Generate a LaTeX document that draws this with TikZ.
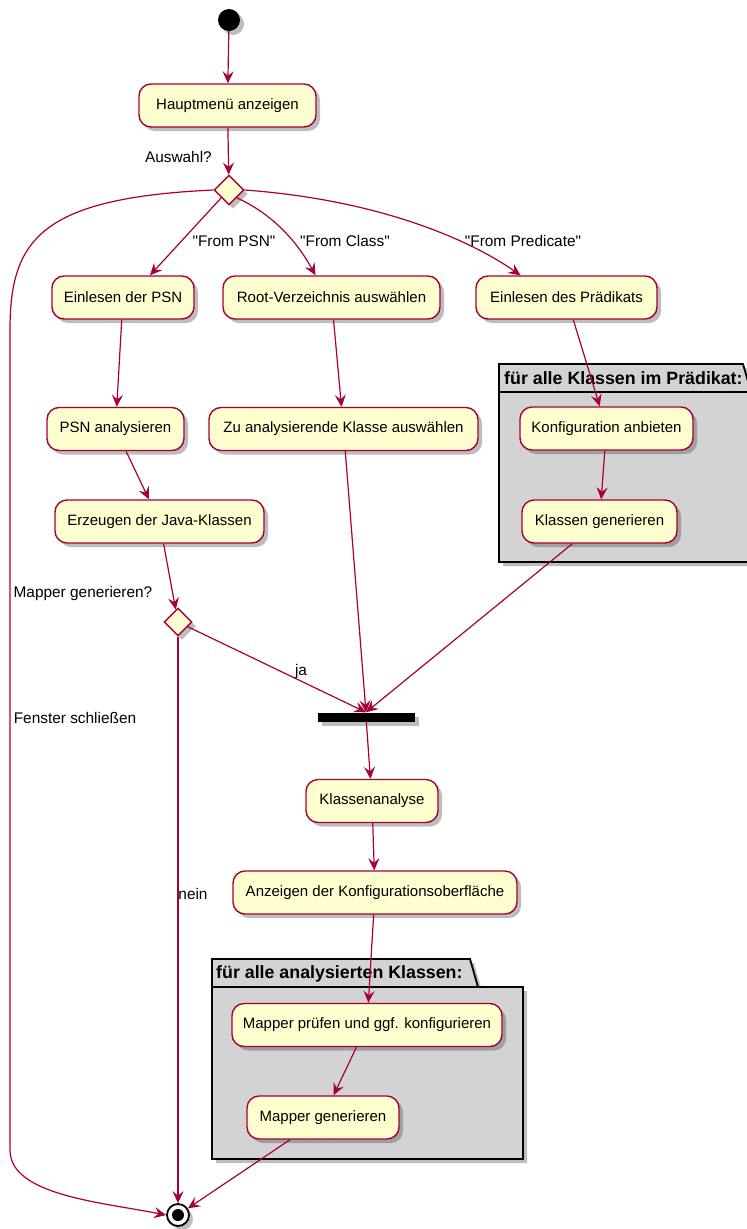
\documentclass[tikz,border=0pt]{standalone}
\usepackage{fontspec}
\setmainfont{Liberation Sans}[Ligatures=TeXOff]
\usetikzlibrary{shapes.geometric,arrows.meta,shadows,calc}

\definecolor{actfill}{HTML}{FEFECE}
\definecolor{actline}{HTML}{A80036}
\definecolor{pkgfill}{HTML}{D3D3D3}

\begin{document}
\begin{tikzpicture}[x=1pt,y=-1pt,
  shade box/.style={drop shadow={shadow xshift=4pt,shadow yshift=-4pt,opacity=0.32,fill=black!80}},
  action/.style={draw=actline, fill=actfill, line width=1.4pt, rounded corners=12pt,
    minimum height=43pt, inner sep=0pt, font=\fontsize{15}{18}\selectfont, shade box},
  choice/.style={diamond, draw=actline, fill=actfill, line width=1.4pt,
    minimum width=30pt, minimum height=30pt, inner sep=0pt, shade box},
  flow/.style={draw=actline, line width=1.2pt, -{Stealth[length=12pt,width=11pt,inset=4.5pt]}},
  lbl/.style={font=\fontsize{15.4}{18}\selectfont, inner sep=0pt},
  pkg/.style={draw=black, fill=pkgfill, line width=1.8pt, shade box},
  pkgtitle/.style={font=\bfseries\fontsize{17.8}{21}\selectfont, anchor=west, inner sep=0pt},
]
\useasboundingbox (0,0) rectangle (747,1229);
\clip (0,0) rectangle (747,1229);
\fill[white] (0,0) rectangle (747,1229);

% loop packages
\path[pkg] (499,562) -- (499,364) -- (743,364) -- (751,392) -- (760,392) -- (760,562) -- cycle;
\draw[black, line width=1.8pt] (499,392) -- (751,392);
\node[pkgtitle] (p1title) at (504,378) {für alle Klassen im Prädikat:};

\path[pkg] (212,1159) -- (212,959) -- (470,959) -- (478,987) -- (523,987) -- (523,1159) -- cycle;
\draw[black, line width=1.8pt] (212,987) -- (478,987);
\node[pkgtitle] (p2title) at (216,974) {für alle analysierten Klassen:};

% start / end
\node[circle, fill=black, minimum size=22pt, inner sep=0pt, shade box] (start) at (229,20) {};
\node[circle, draw=black, fill=white, line width=1.8pt, minimum size=22pt, inner sep=0pt, shade box] (end) at (178,1215) {};
\node[circle, fill=black, minimum size=12pt, inner sep=0pt] (endcore) at (end) {};

% actions
\node[action, minimum width=177pt] (menu) at (227.5,105.5) {Hauptmenü anzeigen};
\node[choice] (sel) at (229,190) {};

\node[action, minimum width=142pt] (psnin) at (123,297.5) {Einlesen der PSN};
\node[action, minimum width=217pt] (root) at (331.5,297.5) {Root-Verzeichnis auswählen};
\node[action, minimum width=181pt] (predin) at (566.5,297.5) {Einlesen des Prädikats};

\node[action, minimum width=137pt] (psnana) at (115.5,429) {PSN analysieren};
\node[action, minimum width=269pt] (clsel) at (343.5,429) {Zu analysierende Klasse auswählen};
\node[action, minimum width=173pt] (cfg) at (606.5,428.5) {Konfiguration anbieten};

\node[action, minimum width=209pt] (java) at (159.5,521.5) {Erzeugen der Java-Klassen};
\node[action, minimum width=155pt] (gen) at (599.5,521.5) {Klassen generieren};

\node[choice, minimum width=28pt, minimum height=28pt] (mapq) at (178,622) {};

\node[fill=black, minimum width=97pt, minimum height=9pt, inner sep=0pt, shade box] (bar) at (366,717) {};

\node[action, minimum width=132pt] (ana) at (372,801) {Klassenanalyse};
\node[action, minimum width=284pt] (ui) at (375,892.5) {Anzeigen der Konfigurationsoberfläche};
\node[action, minimum width=270pt] (check) at (367,1025) {Mapper prüfen und ggf. konfigurieren};
\node[action, minimum width=152pt] (mapgen) at (323,1117.5) {Mapper generieren};

% labels
\node[lbl, anchor=east] (selq) at (212,157) {Auswahl?};
\node[lbl] (lpsn) at (234,241) {"From PSN"};
\node[lbl] (lclass) at (345,241) {"From Class"};
\node[lbl] (lpred) at (523,241) {"From Predicate"};
\node[lbl] (mapqq) at (83,594) {Mapper generieren?};
\node[lbl] (lja) at (301,672) {ja};
\node[lbl] (lclose) at (75,718) {Fenster schließen};
\node[lbl] (lnein) at (193,894) {nein};

% flow
\draw[flow] (start) -- (menu);
\draw[flow] (menu) -- (sel);
\draw[flow] (sel.south west) -- ($(psnin.north)+(27,0)$);
\draw[flow] (sel.south east) .. controls (270,213) and (295,238) .. ($(root.north)+(-16,0)$);
\draw[flow] (sel.east) .. controls (380,200) and (470,240) .. ($(predin.north)+(-46,0)$);
\draw[flow] (sel.west) .. controls (40,198) and (10,240) .. (10,330) -- (10,1150)
  .. controls (10,1195) and (100,1202) .. (end.west);

\draw[flow] (psnin) -- (psnana);
\draw[flow] (psnana) -- (java);
\draw[flow] (java) -- (mapq);
\draw[flow] (mapq.south) -- (end.north);
\draw[flow] (mapq) -- (bar.north);

\draw[flow] (root) -- (clsel);
\draw[flow] (clsel) -- (bar.north);

\draw[flow] (predin) -- (cfg);
\draw[flow] (cfg) -- (gen);
\draw[flow] (gen) -- (bar.north);

\draw[flow] (bar) -- (ana);
\draw[flow] (ana) -- (ui);
\draw[flow] (ui) -- (check);
\draw[flow] (check) -- (mapgen);
\draw[flow] (mapgen) -- (end);
\end{tikzpicture}
\end{document}
